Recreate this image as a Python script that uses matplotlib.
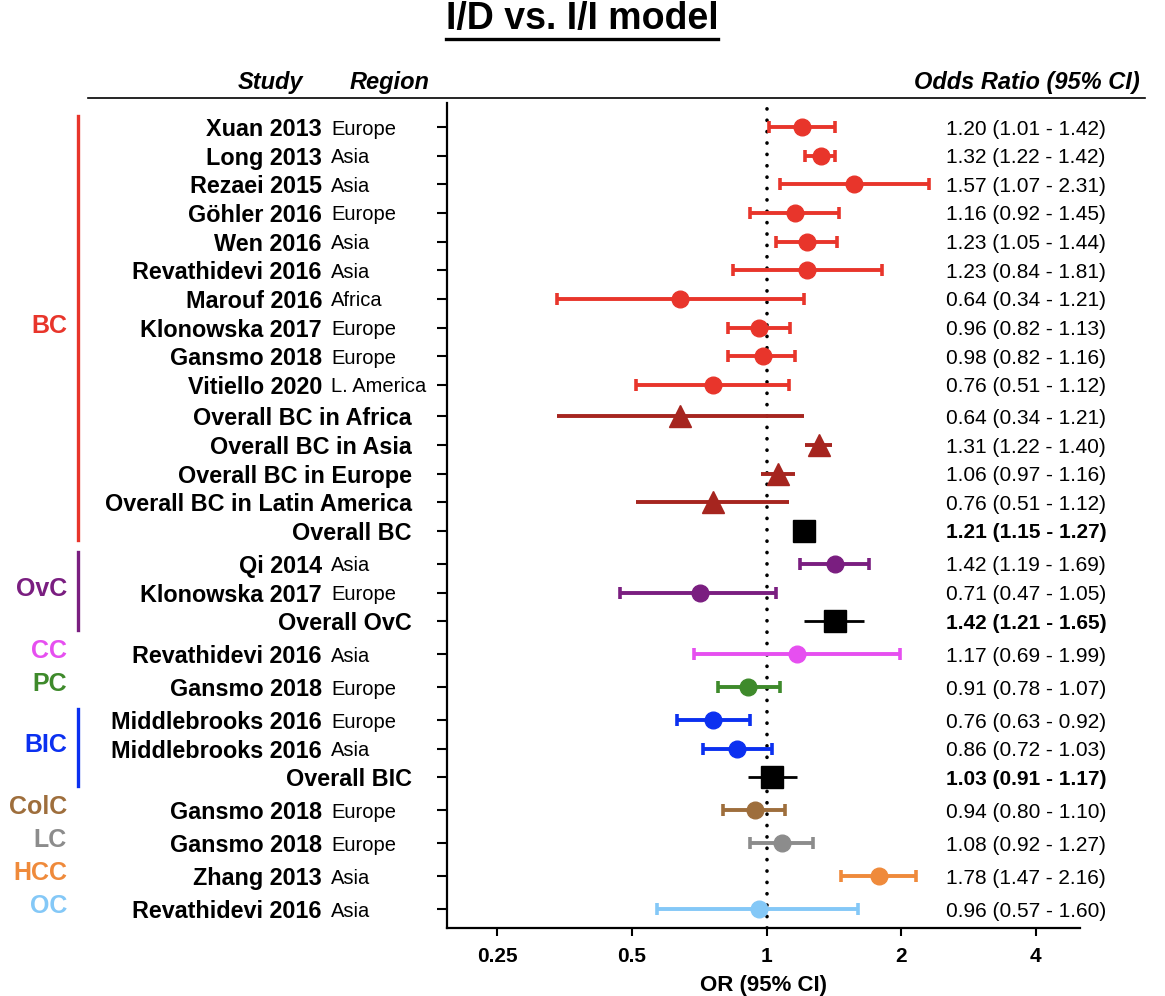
import matplotlib
matplotlib.use("Agg")
import matplotlib.pyplot as plt
from matplotlib.lines import Line2D
from matplotlib.ticker import NullLocator
from matplotlib.transforms import blended_transform_factory

plt.rcParams["font.family"] = ["Liberation Sans", "DejaVu Sans"]

# ---- data ----
groups = ["BC"] * 15 + ["OvC"] * 3 + ["CC", "PC"] + ["BIC"] * 3 + ["ColC", "LC", "HCC", "OC"]
kinds = (["study"] * 10 + ["sub"] * 4 + ["overall"]
         + ["study", "study", "overall"] + ["study", "study"]
         + ["study", "study", "overall"] + ["study"] * 4)
labels = ["Xuan 2013", "Long 2013", "Rezaei 2015", "Göhler 2016", "Wen 2016",
          "Revathidevi 2016", "Marouf 2016", "Klonowska 2017", "Gansmo 2018",
          "Vitiello 2020", "Overall BC in Africa", "Overall BC in Asia",
          "Overall BC in Europe", "Overall BC in Latin America", "Overall BC",
          "Qi 2014", "Klonowska 2017", "Overall OvC",
          "Revathidevi 2016", "Gansmo 2018",
          "Middlebrooks 2016", "Middlebrooks 2016", "Overall BIC",
          "Gansmo 2018", "Gansmo 2018", "Zhang 2013", "Revathidevi 2016"]
regions = ["Europe", "Asia", "Asia", "Europe", "Asia", "Asia", "Africa", "Europe",
           "Europe", "L. America", "", "", "", "", "",
           "Asia", "Europe", "", "Asia", "Europe", "Europe", "Asia", "",
           "Europe", "Europe", "Asia", "Asia"]
or_vals = [1.20, 1.32, 1.57, 1.16, 1.23, 1.23, 0.64, 0.96, 0.98, 0.76,
           0.64, 1.31, 1.06, 0.76, 1.21,
           1.42, 0.71, 1.42, 1.17, 0.91, 0.76, 0.86, 1.03,
           0.94, 1.08, 1.78, 0.96]
ci_lo = [1.01, 1.22, 1.07, 0.92, 1.05, 0.84, 0.34, 0.82, 0.82, 0.51,
         0.34, 1.22, 0.97, 0.51, 1.15,
         1.19, 0.47, 1.21, 0.69, 0.78, 0.63, 0.72, 0.91,
         0.80, 0.92, 1.47, 0.57]
ci_hi = [1.42, 1.42, 2.31, 1.45, 1.44, 1.81, 1.21, 1.13, 1.16, 1.12,
         1.21, 1.40, 1.16, 1.12, 1.27,
         1.69, 1.05, 1.65, 1.99, 1.07, 0.92, 1.03, 1.17,
         1.10, 1.27, 2.16, 1.60]
group_names = ["BC", "OvC", "CC", "PC", "BIC", "ColC", "LC", "HCC", "OC"]
group_colors = ["#e8352b", "#7a1e80", "#e64ff0", "#3e8a2b", "#0b30f0",
                "#9e6e3c", "#8c8c8c", "#ef8a3b", "#84c8f7"]
sub_color = "#a6251f"
xticks = [0.25, 0.5, 1, 2, 4]
xticklabels = ["0.25", "0.5", "1", "2", "4"]

color_of = dict(zip(group_names, group_colors))

# row positions: a bit more room between groups
ys = []
y = 0.0
for i in range(len(labels)):
    if i > 0:
        if groups[i] != groups[i - 1]:
            y += 1.15
        elif kinds[i] == "sub" and kinds[i - 1] == "study":
            y += 1.1
        else:
            y += 1.0
    ys.append(y)

fig = plt.figure(figsize=(11.65, 9.96), dpi=100)
W, H = 1165, 996
ax = fig.add_axes([447 / W, 1 - 928 / H, (1080 - 447) / W, (928 - 103) / H])
ax.set_xscale("log")
ax.set_xlim(0.193, 5.02)
ax.set_ylim(ys[-1] + 0.66, -0.84)

for i in range(len(labels)):
    o, lo, hi = or_vals[i], ci_lo[i], ci_hi[i]
    err = [[o - lo], [hi - o]]
    if kinds[i] == "study":
        c = color_of[groups[i]]
        ax.errorbar(o, ys[i], xerr=err, fmt="o", color=c, ms=12, elinewidth=2.8,
                    capsize=4, capthick=2.6, zorder=3)
    elif kinds[i] == "sub":
        ax.errorbar(o, ys[i], xerr=err, fmt="^", color=sub_color, ms=16,
                    elinewidth=2.8, capsize=0, zorder=3)
    else:
        ax.errorbar(o, ys[i], xerr=err, fmt="s", color="black", ms=16,
                    elinewidth=2.0, capsize=0, zorder=3)

ax.axvline(1, color="black", lw=2.6, ls=(0, (0.05, 3.1)), dash_capstyle="round", zorder=1)

for s in ["top", "right"]:
    ax.spines[s].set_visible(False)
for s in ["left", "bottom"]:
    ax.spines[s].set_linewidth(1.6)
ax.set_yticks(ys)
ax.set_yticklabels([])
ax.tick_params(axis="y", direction="out", length=7, width=1.5)
ax.xaxis.set_minor_locator(NullLocator())
ax.set_xticks(xticks)
ax.set_xticklabels(xticklabels, fontsize=15, fontweight="bold")
ax.tick_params(axis="x", direction="out", length=6, width=1.5, pad=8)
ax.set_xlabel("OR (95% CI)", fontsize=16, fontweight="bold", labelpad=6)

tr = blended_transform_factory(fig.transFigure, ax.transData)
for i in range(len(labels)):
    if kinds[i] == "study":
        ax.text(322 / W, ys[i], labels[i], transform=tr, ha="right", va="center_baseline",
                fontsize=16.8, fontweight="bold")
        ax.text(331 / W, ys[i], regions[i], transform=tr, ha="left", va="center_baseline",
                fontsize=14.5)
    else:
        ax.text(412 / W, ys[i], labels[i], transform=tr, ha="right", va="center_baseline",
                fontsize=16.8, fontweight="bold")
    txt = f"{or_vals[i]:.2f} ({ci_lo[i]:.2f} - {ci_hi[i]:.2f})"
    ax.text(946 / W, ys[i], txt, transform=tr, ha="left", va="center_baseline",
            fontsize=15, fontweight="bold" if kinds[i] == "overall" else "normal")

# group labels and brackets
for g, c in zip(group_names, group_colors):
    rows = [ys[i] for i in range(len(ys)) if groups[i] == g]
    ax.text(67 / W, (rows[0] + rows[-1]) / 2 - 0.12, g, transform=tr, ha="right",
            va="center", fontsize=18, fontweight="bold", color=c)
    if len(rows) > 1:
        fig.add_artist(Line2D([78 / W, 78 / W], [rows[0] - 0.4, rows[-1] + 0.3],
                              transform=tr, color=c, lw=2.4))

# header
fig.text(270 / W, 1 - 82 / H, "Study", ha="center", va="center", fontsize=17,
         fontweight="bold", fontstyle="italic")
fig.text(390 / W, 1 - 82 / H, "Region", ha="center", va="center", fontsize=17,
         fontweight="bold", fontstyle="italic")
fig.text(1140 / W, 1 - 82 / H, "Odds Ratio (95% CI)", ha="right", va="center",
         fontsize=17, fontweight="bold", fontstyle="italic")
fig.add_artist(Line2D([88 / W, 1145 / W], [1 - 98 / H, 1 - 98 / H], color="black", lw=1.2))

title = fig.text(582 / W, 1 - 19 / H, "I/D vs. I/I model", ha="center", va="center",
                 fontsize=27, fontweight="bold")
fig.canvas.draw()
bb = title.get_window_extent(fig.canvas.get_renderer())
uy = (bb.y0 - 2) / H
fig.add_artist(Line2D([bb.x0 / W, bb.x1 / W], [uy, uy], color="black", lw=2.4))

fig.savefig("out.png", dpi=100)
